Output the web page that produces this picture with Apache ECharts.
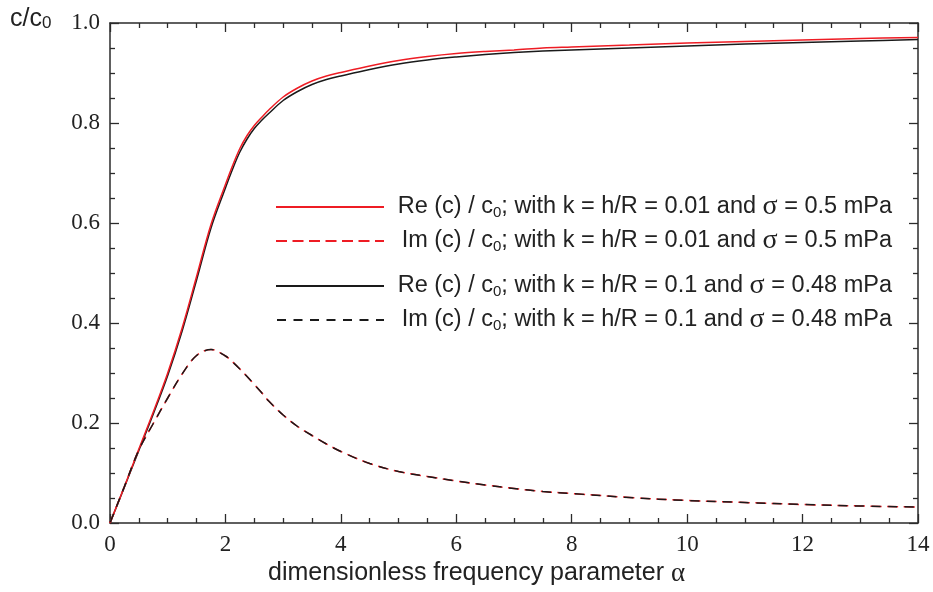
<!DOCTYPE html>
<html>
<head>
<meta charset="utf-8">
<script src="https://cdn.jsdelivr.net/npm/echarts@6/dist/echarts.min.js"></script>
<style>html,body{margin:0;padding:0;background:#fff}#c{width:933px;height:592px}</style>
</head>
<body>
<div id="c"></div>
<script>
// ---- data ----
const alpha  = [0,0.25,0.5,0.75,1,1.25,1.5,1.75,2,2.125,2.25,2.375,2.5,2.625,2.75,3,3.25,3.5,3.75,4,4.5,5,5.5,6,6.5,7,7.5,8,9,10,11,12,13,14];
const reK001 = [0,0.073,0.148,0.222,0.300,0.390,0.493,0.597,0.677,0.715,0.749,0.775,0.795,0.811,0.826,0.852,0.870,0.884,0.894,0.901,0.914,0.925,0.933,0.939,0.943,0.946,0.950,0.952,0.956,0.960,0.963,0.966,0.969,0.971];
const imK001 = [0,0.073,0.146,0.199,0.250,0.298,0.335,0.347,0.334,0.322,0.308,0.293,0.277,0.261,0.244,0.216,0.193,0.175,0.158,0.143,0.119,0.103,0.093,0.084,0.076,0.069,0.063,0.059,0.051,0.045,0.041,0.037,0.034,0.032];
const reK01  = [0,0.072,0.145,0.218,0.295,0.384,0.486,0.590,0.670,0.708,0.742,0.768,0.789,0.805,0.819,0.845,0.863,0.877,0.887,0.894,0.907,0.918,0.926,0.932,0.937,0.941,0.944,0.946,0.950,0.954,0.958,0.961,0.964,0.967];
const imK01  = [0,0.073,0.146,0.199,0.250,0.298,0.335,0.347,0.334,0.322,0.308,0.293,0.277,0.261,0.244,0.216,0.193,0.175,0.158,0.143,0.119,0.103,0.093,0.084,0.076,0.069,0.063,0.059,0.051,0.045,0.041,0.037,0.034,0.032];
const xTicks = [0,2,4,6,8,10,12,14];
const yTicks = [0.0,0.2,0.4,0.6,0.8,1.0];
const names = [
  '{t|Re (c) / c}{sub|0}{t|; with k = h/R = 0.01 and }{s|σ}{t| = 0.5 mPa}',
  '{t|Im (c) / c}{sub|0}{t|; with k = h/R = 0.01 and }{s|σ}{t| = 0.5 mPa}',
  '{t|Re (c) / c}{sub|0}{t|; with k = h/R = 0.1 and }{s|σ}{t| = 0.48 mPa}',
  '{t|Im (c) / c}{sub|0}{t|; with k = h/R = 0.1 and }{s|σ}{t| = 0.48 mPa}'
];
// --------------------------------------

const RED = '#ee1c24', BLK = '#1a1a1a', AX = '#2b2b2b';
const pairs = v => alpha.map((a, i) => [a, v[i]]);

const chart = echarts.init(document.getElementById('c'), null, {renderer: 'canvas'});

const sans = 'Liberation Sans, Arial, sans-serif';
const serif = 'Liberation Serif, Times New Roman, serif';

function axisCommon(extra) {
  return Object.assign({
    type: 'value',
    axisLine: {show: true, onZero: false, lineStyle: {color: AX, width: 1.5}},
    axisTick: {show: true, inside: true, length: 9, lineStyle: {color: AX, width: 1.3}},
    minorTick: {show: true, splitNumber: 4, length: 5, lineStyle: {color: AX, width: 1.3}},
    splitLine: {show: false},
    minorSplitLine: {show: false}
  }, extra);
}

const legendText = {
  fontFamily: sans, fontSize: 23.5, color: '#222', width: 503, lineHeight: 26,
  rich: {
    t: {fontFamily: sans, fontSize: 23.5, color: '#222', align: 'right', lineHeight: 26},
    sub: {fontFamily: sans, fontSize: 15, color: '#222', align: 'right', verticalAlign: 'bottom', lineHeight: 24},
    s: {fontFamily: serif, fontSize: 28, color: '#222', align: 'right', lineHeight: 26}
  }
};

const legendCommon = {orient: 'vertical', left: 275, padding: 0, itemGap: 6, itemWidth: 108, itemHeight: 14,
  textStyle: legendText, selectedMode: false, itemStyle: {opacity: 0}};

const option = {
  backgroundColor: '#fff',
  animation: false,
  grid: {left: 110, right: 15, top: 23, bottom: 69, containLabel: false},
  xAxis: [
    axisCommon({min: 0, max: 14, interval: 2, position: 'bottom',
      axisLabel: {show: true, margin: 10, color: '#222', fontFamily: serif, fontSize: 23,
        formatter: v => xTicks.includes(v) ? String(v) : ''}}),
    axisCommon({min: 0, max: 14, interval: 2, position: 'top', axisLabel: {show: false}})
  ],
  yAxis: [
    axisCommon({min: 0, max: 1, interval: 0.2, position: 'left',
      axisLabel: {show: true, margin: 10, color: '#222', fontFamily: serif, fontSize: 23,
        formatter: v => yTicks.some(t => Math.abs(t - v) < 1e-9) ? v.toFixed(1) : ''}}),
    axisCommon({min: 0, max: 1, interval: 0.2, position: 'right', axisLabel: {show: false}})
  ],
  legend: [
    Object.assign({top: 193, data: [names[0], names[1]]}, legendCommon),
    Object.assign({top: 272, data: [names[2], names[3]]}, legendCommon)
  ],
  graphic: [
    {type: 'text', left: 10, top: 7, style: {text: 'c/c{sub|0}', fill: '#222', font: '25px ' + sans,
      rich: {sub: {fontSize: 17, fontFamily: sans, verticalAlign: 'bottom', lineHeight: 24, fill: '#222'}}}},
    {type: 'text', left: 268, top: 560, style: {text: 'dimensionless frequency parameter {a|α}', fill: '#222', font: '25px ' + sans,
      rich: {a: {fontSize: 27, fontFamily: serif, fill: '#222'}}}}
  ],
  series: [
    {name: names[2], type: 'line', data: pairs(reK01), showSymbol: false, symbol: 'none', smooth: 0.35,
     lineStyle: {color: BLK, width: 1.5}, itemStyle: {color: BLK}, z: 2},
    {name: names[0], type: 'line', data: pairs(reK001), showSymbol: false, symbol: 'none', smooth: 0.35,
     lineStyle: {color: RED, width: 1.5}, itemStyle: {color: RED}, z: 3},
    {name: names[1], type: 'line', data: pairs(imK001), showSymbol: false, symbol: 'none', smooth: 0.35,
     lineStyle: {color: RED, width: 1.5, type: [11, 5.5]}, itemStyle: {color: RED}, z: 2},
    {name: names[3], type: 'line', data: pairs(imK01), showSymbol: false, symbol: 'none', smooth: 0.35,
     lineStyle: {color: BLK, width: 1.5, type: [9, 7.5], dashOffset: -1}, itemStyle: {color: BLK}, z: 3}
  ]
};
chart.setOption(option);
</script>
</body>
</html>
